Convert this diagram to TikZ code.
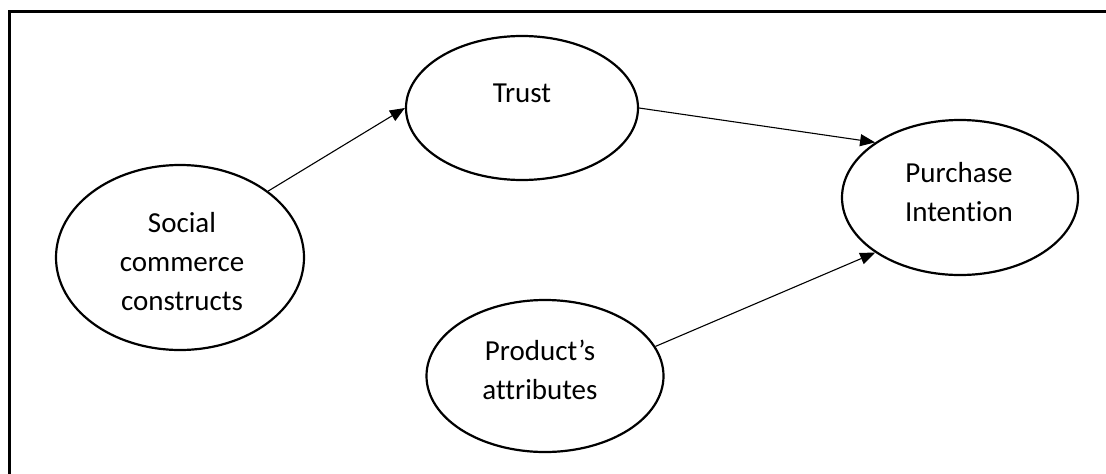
\documentclass[tikz,border=0pt]{standalone}
\usepackage{fontspec}
\setmainfont{Carlito}[Ligatures={NoCommon}]
\usetikzlibrary{shapes.geometric,arrows.meta}
\begin{document}
\begin{tikzpicture}[x=1pt,y=-1pt,
  construct/.style={draw, ellipse, line width=2.2pt, inner sep=0pt},
  caption/.style={align=center, font=\fontsize{29}{39}\selectfont},
  link/.style={line width=1.1pt, -{Triangle[length=15pt,width=12pt]}},
  frame/.style={line width=3pt, line join=miter}]
\useasboundingbox (0,0) rectangle (1106,474);
% partial frame: top and left edges
\draw[frame] (1110,11.5) -- (9,11.5) -- (9,478);
% constructs
\node[construct, minimum width=248pt, minimum height=185pt] (social) at (180,257.5) {};
\node[construct, minimum width=232pt, minimum height=144pt] (trust) at (522,108) {};
\node[construct, minimum width=236pt, minimum height=155pt] (purchase) at (960,197.5) {};
\node[construct, minimum width=237pt, minimum height=152pt] (product) at (545,376) {};
% labels
\node[caption] (socialtxt) at (182,261.5) {Social\\commerce\\constructs};
\node[caption] (trusttxt) at (522,93) {Trust};
\node[caption] (purchasetxt) at (959,192.5) {Purchase\\Intention};
\node[caption] (producttxt) at (540,370) {Product’s\\attributes};
% relations
\draw[link] (social.37) -- (trust.west);
\draw[link] (trust.east) -- (purchase.147);
\draw[link] (product.15) -- (purchase.213);
\end{tikzpicture}
\end{document}
